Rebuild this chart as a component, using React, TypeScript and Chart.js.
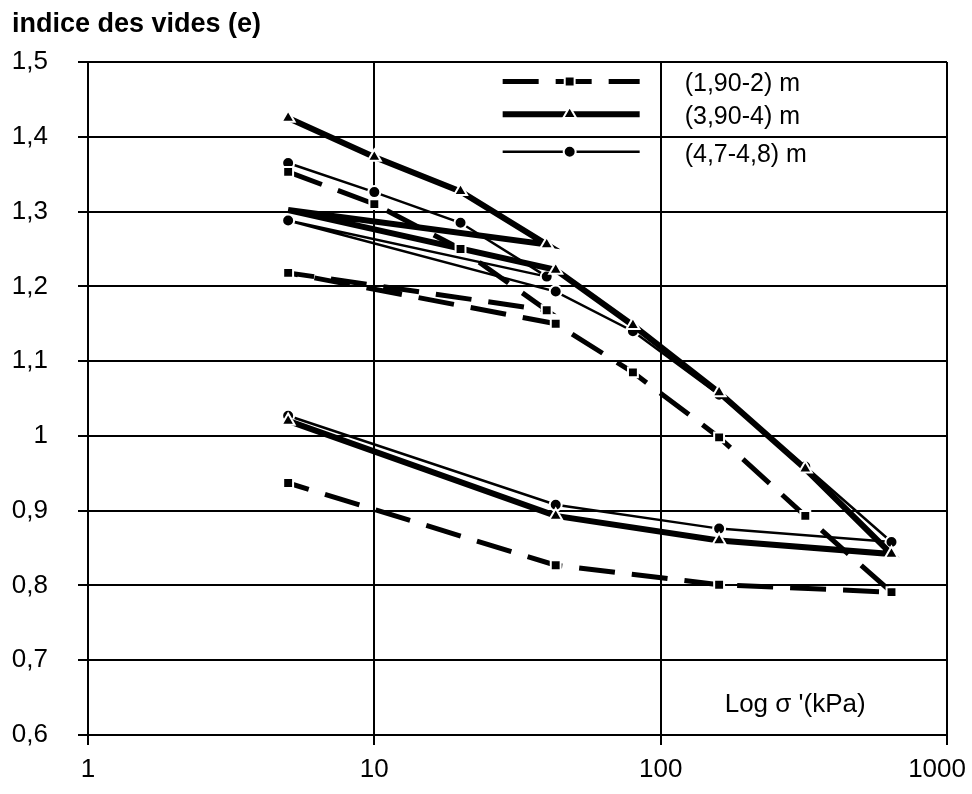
import React, { useEffect, useRef } from 'react';
import { Chart, registerables } from 'chart.js';

Chart.register(...registerables);

// Effective stress sequence (kPa): loading, unloading, reloading, loading, final unloading
const stressKPa = [5, 10, 20, 40, 5, 43, 80, 160, 320, 640, 160, 43, 5];

// Void ratio e for each depth
const eDepth190 = [1.353, 1.31, 1.25, 1.168, 1.218, 1.15, 1.085, 0.998, 0.893, 0.791, 0.801, 0.827, 0.937];
const eDepth390 = [1.425, 1.373, 1.327, 1.256, 1.302, 1.222, 1.148, 1.058, 0.956, 0.842, 0.86, 0.893, 1.02];
const eDepth470 = [1.365, 1.326, 1.285, 1.213, 1.288, 1.193, 1.14, 1.055, 0.959, 0.858, 0.876, 0.908, 1.027];

const seriesLabels = ['(1,90-2) m', '(3,90-4) m', '(4,7-4,8) m'];

const xTicks = [1, 10, 100, 1000];
const xTickLabels = ['1', '10', '100', '1000'];
const yTicks = [0.6, 0.7, 0.8, 0.9, 1.0, 1.1, 1.2, 1.3, 1.4, 1.5];
const yTickLabels = ['0,6', '0,7', '0,8', '0,9', '1', '1,1', '1,2', '1,3', '1,4', '1,5'];

const yTitle = 'indice des vides (e)';
const xTitle = "Log σ '(kPa)";

const FONT = '"Liberation Sans", Arial, Helvetica, sans-serif';

function drawMarker(ctx: CanvasRenderingContext2D, style: string, x: number, y: number, r: number) {
  ctx.save();
  ctx.setLineDash([]);
  ctx.fillStyle = '#000';
  ctx.strokeStyle = '#fff';
  ctx.lineWidth = 2;
  ctx.beginPath();
  if (style === 'rect') {
    const s = Math.SQRT1_2 * r;
    ctx.rect(x - s, y - s, 2 * s, 2 * s);
  } else if (style === 'triangle') {
    ctx.moveTo(x, y - r);
    ctx.lineTo(x + Math.sin((2 * Math.PI) / 3) * r, y - Math.cos((2 * Math.PI) / 3) * r);
    ctx.lineTo(x + Math.sin((4 * Math.PI) / 3) * r, y - Math.cos((4 * Math.PI) / 3) * r);
    ctx.closePath();
  } else {
    ctx.arc(x, y, r, 0, Math.PI * 2);
  }
  ctx.fill();
  ctx.stroke();
  ctx.restore();
}

const overlayPlugin = {
  id: 'overlay',
  afterDraw(chart: any) {
    const ctx: CanvasRenderingContext2D = chart.ctx;
    const xs = chart.scales.x;
    const ys = chart.scales.y;
    const area = chart.chartArea;
    ctx.save();
    ctx.fillStyle = '#000';
    ctx.textAlign = 'left';
    ctx.textBaseline = 'alphabetic';
    ctx.font = `bold 27px ${FONT}`;
    ctx.fillText(yTitle, 12, 32);

    // x tick labels (kept inside the canvas)
    ctx.font = `26px ${FONT}`;
    ctx.textBaseline = 'middle';
    ctx.textAlign = 'center';
    xTicks.forEach((v, i) => {
      const t = xTickLabels[i];
      const w = ctx.measureText(t).width;
      let px = xs.getPixelForValue(v);
      px = Math.min(px, chart.width - 6 - w / 2);
      ctx.fillText(t, px, area.bottom + 35);
    });

    ctx.textAlign = 'left';
    ctx.font = `26px ${FONT}`;
    ctx.fillText(xTitle, xs.getPixelForValue(100) + 64, ys.getPixelForValue(0.641));

    // legend inside plot
    const rowsY = [1.474, 1.43, 1.38].map((v) => ys.getPixelForValue(v));
    const x100 = xs.getPixelForValue(100);
    const x0 = x100 - 158;
    const x1 = x100 - 21;
    chart.data.datasets.forEach((ds: any, i: number) => {
      const y = rowsY[i];
      ctx.strokeStyle = '#000';
      ctx.lineWidth = ds.borderWidth;
      ctx.setLineDash(ds.borderDash || []);
      ctx.lineCap = 'butt';
      ctx.beginPath();
      ctx.moveTo(x0, y);
      ctx.lineTo(x1, y);
      ctx.stroke();
      ctx.setLineDash([]);
      drawMarker(ctx, ds.pointStyle, x100 - 91, y, ds.legendRadius);
      ctx.fillStyle = '#000';
      ctx.font = `25px ${FONT}`;
      ctx.textBaseline = 'middle';
      ctx.fillText(ds.label, x100 + 24, y + 3);
    });
    ctx.restore();
  },
};

export default function App() {
  const canvasRef = useRef<HTMLCanvasElement | null>(null);

  useEffect(() => {
    const canvas = canvasRef.current;
    if (!canvas) return;
    const mk = (ys: number[]) => stressKPa.map((x, i) => ({ x, y: ys[i] }));

    const common = {
      showLine: true,
      borderColor: '#000',
      pointBackgroundColor: '#000',
      pointBorderColor: '#fff',
      pointBorderWidth: 2,
      tension: 0,
      fill: false,
    };

    const triRadius = stressKPa.map((_, i) => (i === 4 ? 0 : 7.5));

    const chart = new Chart(canvas, {
      type: 'scatter',
      data: {
        datasets: [
          {
            ...common,
            label: seriesLabels[0],
            data: mk(eDepth190),
            borderWidth: 5,
            borderDash: [36, 17],
            pointStyle: 'rect',
            pointRadius: 7,
            legendRadius: 7,
          },
          {
            ...common,
            label: seriesLabels[1],
            data: mk(eDepth390),
            borderWidth: 6,
            pointStyle: 'triangle',
            pointRadius: triRadius,
            legendRadius: 7.5,
          },
          {
            ...common,
            label: seriesLabels[2],
            data: mk(eDepth470),
            borderWidth: 2.5,
            pointStyle: 'circle',
            pointRadius: 6,
            legendRadius: 6,
          },
        ],
      } as any,
      options: {
        animation: false,
        responsive: false,
        devicePixelRatio: 1,
        layout: { padding: { top: 62, right: 25, left: 0, bottom: 0 } },
        plugins: {
          legend: { display: false },
          tooltip: { enabled: false },
          title: { display: false },
        },
        scales: {
          x: {
            type: 'logarithmic',
            min: 1,
            max: 1000,
            afterBuildTicks: (scale: any) => {
              scale.ticks = xTicks.map((v) => ({ value: v }));
            },
            afterFit: (scale: any) => {
              scale.height = 59;
              scale.paddingLeft = 0;
              scale.paddingRight = 0;
            },
            ticks: {
              display: false,
              autoSkip: false,
              maxRotation: 0,
              callback: (_v: any, i: number) => xTickLabels[i],
            },
            grid: { color: '#000', lineWidth: 2, tickLength: 10, drawTicks: true },
            border: { display: true, color: '#000', width: 2 },
          },
          y: {
            type: 'linear',
            min: 0.6,
            max: 1.5,
            afterBuildTicks: (scale: any) => {
              scale.ticks = yTicks.map((v) => ({ value: v }));
            },
            afterFit: (scale: any) => {
              scale.width = 88;
            },
            ticks: {
              autoSkip: false,
              color: '#000',
              padding: 30,
              font: { family: FONT, size: 26 },
              callback: (_v: any, i: number) => yTickLabels[i],
            },
            grid: { color: '#000', lineWidth: 2, tickLength: 10, drawTicks: true },
            border: { display: true, color: '#000', width: 2 },
          },
        },
      } as any,
      plugins: [overlayPlugin],
    });

    return () => chart.destroy();
  }, []);

  return (
    <div style={{ position: 'fixed', left: 0, top: 0, width: 972, height: 794, background: '#fff' }}>
      <canvas ref={canvasRef} width={972} height={794} style={{ width: 972, height: 794, display: 'block' }} />
    </div>
  );
}
